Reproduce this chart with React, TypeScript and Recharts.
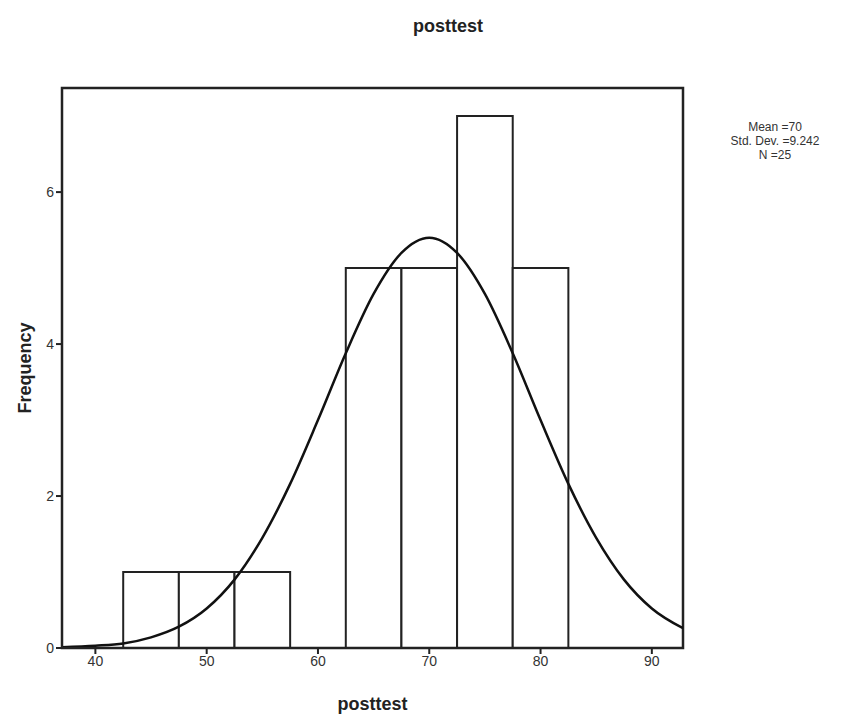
import { ComposedChart, Line, ReferenceArea, XAxis, YAxis } from 'recharts';

const binLow = [42.5, 47.5, 52.5, 62.5, 67.5, 72.5, 77.5];
const binHigh = [47.5, 52.5, 57.5, 67.5, 72.5, 77.5, 82.5];
const counts = [1, 1, 1, 5, 5, 7, 5];

// normal curve
const curveX = [37, 40, 42.5, 45, 47.5, 50, 52.5, 55, 57.5, 60, 62.5, 65, 67.5, 70, 72.5, 75, 77.5, 80, 82.5, 85, 87.5, 90, 92.8];
const curveY = [0.01, 0.03, 0.06, 0.14, 0.28, 0.52, 0.9, 1.45, 2.16, 3.0, 3.88, 4.66, 5.2, 5.4, 5.2, 4.66, 3.88, 3.0, 2.16, 1.45, 0.9, 0.52, 0.26];

const xTicks = [40, 50, 60, 70, 80, 90];
const yTicks = [0, 2, 4, 6];
const xDomain: [number, number] = [37, 92.8];
const yDomain: [number, number] = [0, 7.37];

const statLines = ['Mean =70', 'Std. Dev. =9.242', 'N =25'];

const curveRows = curveX.map((x, i) => ({ x, y: curveY[i] }));

const font = '"Liberation Sans", Arial, sans-serif';
const tickStyle = { fill: '#333', fontSize: 14, fontFamily: font };

export default function App() {
  return (
    <div style={{ position: 'absolute', left: 0, top: 0, width: 854, height: 722, background: '#fff', fontFamily: font }}>
      <div style={{ position: 'absolute', left: 0, width: 854, top: 16, textAlign: 'center', paddingLeft: 42, boxSizing: 'border-box', fontWeight: 'bold', fontSize: 18, color: '#222' }}>
        posttest
      </div>
      <ComposedChart width={854} height={722} data={curveRows} margin={{ top: 88, right: 171, bottom: 44, left: 32 }}>
        <XAxis
          xAxisId="b"
          dataKey="x"
          type="number"
          domain={xDomain}
          ticks={xTicks}
          allowDataOverflow
          height={30}
          tick={tickStyle}
          tickSize={6}
          axisLine={{ stroke: '#222', strokeWidth: 2 }}
          tickLine={{ stroke: '#222', strokeWidth: 2 }}
        />
        <YAxis
          yAxisId="l"
          type="number"
          domain={yDomain}
          ticks={yTicks}
          allowDataOverflow
          width={30}
          tick={tickStyle}
          tickSize={6}
          axisLine={{ stroke: '#222', strokeWidth: 2 }}
          tickLine={{ stroke: '#222', strokeWidth: 2 }}
        />
        {counts.map((c, i) => (
          <ReferenceArea
            key={i}
            xAxisId="b"
            yAxisId="l"
            x1={binLow[i]}
            x2={binHigh[i]}
            y1={0}
            y2={c}
            fill="#fff"
            fillOpacity={1}
            stroke="#222"
            strokeWidth={2}
            ifOverflow="visible"
          />
        ))}
        <Line
          xAxisId="b"
          yAxisId="l"
          dataKey="y"
          type="monotone"
          stroke="#111"
          strokeWidth={2.5}
          dot={false}
          isAnimationActive={false}
        />
        {/* frame around the whole plot area */}
        <ReferenceArea
          xAxisId="b"
          yAxisId="l"
          x1={xDomain[0]}
          x2={xDomain[1]}
          y1={yDomain[0]}
          y2={yDomain[1]}
          fill="none"
          stroke="#222"
          strokeWidth={2.5}
          ifOverflow="visible"
        />
      </ComposedChart>
      <div style={{ position: 'absolute', left: 700, width: 150, top: 120, textAlign: 'center', fontSize: 12, lineHeight: '14px', color: '#333' }}>
        {statLines.map((s) => (
          <div key={s}>{s}</div>
        ))}
      </div>
      <div style={{ position: 'absolute', left: 62, width: 621, top: 694, textAlign: 'center', fontWeight: 'bold', fontSize: 18, color: '#222' }}>
        posttest
      </div>
      <div
        style={{
          position: 'absolute',
          left: 25,
          top: 368,
          transform: 'translate(-50%, -50%) rotate(-90deg)',
          fontWeight: 'bold',
          fontSize: 18,
          color: '#222',
          whiteSpace: 'nowrap',
        }}
      >
        Frequency
      </div>
    </div>
  );
}
